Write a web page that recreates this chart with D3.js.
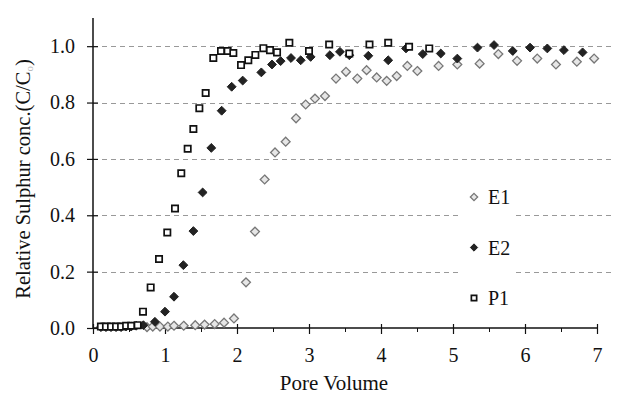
<!DOCTYPE html>
<html>
<head>
<meta charset="utf-8">
<script src="https://cdn.jsdelivr.net/npm/d3@7"></script>
<style>
  body { margin: 0; background: #fff; }
</style>
</head>
<body>
<div id="rootDiv"></div>
<script>
// E1 series (pore volume, C/Co)
const e1X = [0.75, 0.83, 0.93, 1.04, 1.125, 1.26, 1.42, 1.55, 1.69, 1.82, 1.958, 2.125, 2.25, 2.384, 2.528, 2.676, 2.82, 2.954, 3.083, 3.222, 3.375, 3.514, 3.671, 3.80, 3.94, 4.079, 4.218, 4.366, 4.505, 4.8, 5.06, 5.37, 5.63, 5.89, 6.17, 6.43, 6.72, 6.96]
const e1Y = [0.003, 0.005, 0.005, 0.005, 0.008, 0.008, 0.01, 0.012, 0.014, 0.019, 0.034, 0.162, 0.342, 0.527, 0.623, 0.661, 0.744, 0.793, 0.814, 0.823, 0.885, 0.909, 0.885, 0.915, 0.889, 0.877, 0.894, 0.930, 0.912, 0.93, 0.935, 0.938, 0.972, 0.948, 0.956, 0.935, 0.945, 0.956]

// E2 series
const e2X = [0.11, 0.18, 0.25, 0.32, 0.39, 0.46, 0.53, 0.6, 0.7, 0.86, 1.0, 1.125, 1.255, 1.394, 1.523, 1.643, 1.787, 1.926, 2.079, 2.338, 2.486, 2.606, 2.75, 2.885, 3.023, 3.29, 3.43, 3.56, 3.824, 4.1, 4.347, 4.58, 4.83, 5.06, 5.34, 5.57, 5.83, 6.07, 6.31, 6.54, 6.80]
const e2Y = [0.003, 0.003, 0.003, 0.003, 0.003, 0.005, 0.005, 0.008, 0.01, 0.022, 0.058, 0.111, 0.223, 0.344, 0.481, 0.639, 0.771, 0.856, 0.878, 0.907, 0.935, 0.947, 0.958, 0.950, 0.962, 0.968, 0.980, 0.968, 0.966, 0.950, 0.992, 0.972, 0.974, 0.956, 0.995, 1.004, 0.983, 0.995, 0.992, 0.986, 0.978]

// P1 series
const p1X = [0.11, 0.18, 0.25, 0.32, 0.39, 0.46, 0.53, 0.62, 0.694, 0.801, 0.917, 1.032, 1.139, 1.226, 1.315, 1.394, 1.477, 1.565, 1.671, 1.778, 1.87, 1.949, 2.056, 2.157, 2.255, 2.366, 2.458, 2.556, 2.727, 3.0, 3.28, 3.56, 3.84, 4.1, 4.39, 4.67]
const p1Y = [0.005, 0.005, 0.005, 0.005, 0.005, 0.008, 0.008, 0.01, 0.058, 0.144, 0.245, 0.339, 0.424, 0.549, 0.636, 0.706, 0.780, 0.834, 0.958, 0.983, 0.983, 0.976, 0.933, 0.950, 0.969, 0.993, 0.986, 0.978, 1.012, 0.983, 1.006, 0.974, 1.006, 1.012, 0.998, 0.992]

const seriesNames = ["E1", "E2", "P1"]
const xTicks = [0, 1, 2, 3, 4, 5, 6, 7]
const xMinorTicks = [0.5, 1.5, 2.5, 3.5, 4.5, 5.5, 6.5]
const yTicks = [0, 0.2, 0.4, 0.6, 0.8, 1.0]

const W = 617, H = 397
const plotLeft = 93, plotRight = 597, plotTop = 18, plotBottom = 328
const gridRight = 612
const FONT = "Liberation Serif, Times New Roman, DejaVu Serif, serif"
const FS = 20

const x = d3.scaleLinear().domain([0, 7]).range([plotLeft, plotRight])
const y = d3.scaleLinear().domain([0, 1.1]).range([plotBottom, plotTop])

const svg = d3.select("#rootDiv").append("svg")
    .attr("width", W)
    .attr("height", H)
    .attr("font-family", FONT)

// gridlines
svg.append("g")
    .selectAll("line")
    .data(yTicks.filter(d => d > 0))
    .enter()
    .append("line")
    .attr("x1", plotLeft)
    .attr("x2", gridRight)
    .attr("y1", d => Math.round(y(d)) + 0.5)
    .attr("y2", d => Math.round(y(d)) + 0.5)
    .attr("stroke", "#999")
    .attr("stroke-width", 1)
    .attr("stroke-dasharray", "5,4")

// legend background (covers the grid)
svg.append("rect")
    .attr("x", 458).attr("y", 178)
    .attr("width", 58).attr("height", 132)
    .attr("fill", "#fff")

// axes
const yAxis = svg.append("g")
    .attr("transform", `translate(${plotLeft},0)`)
    .call(d3.axisLeft(y).tickValues(yTicks).tickFormat(d3.format(".1f")).tickSize(6).tickPadding(12))

const xAxis = svg.append("g")
    .attr("transform", `translate(0,${plotBottom})`)
    .call(d3.axisBottom(x).tickValues(xTicks).tickFormat(d3.format("d")).tickSize(6).tickPadding(14))

svg.append("g")
    .attr("transform", `translate(0,${plotBottom})`)
    .call(d3.axisBottom(x).tickValues(xMinorTicks).tickFormat("").tickSize(4).tickSizeOuter(0))
    .call(g => g.select(".domain").remove())
    .selectAll("line").style("stroke", "#111")

for (const axis of [xAxis, yAxis]) {
    axis.attr("font-family", FONT).attr("font-size", FS)
    axis.selectAll("line").style("stroke", "#111").style("stroke-width", 1.2)
    axis.selectAll("path").style("stroke", "#111").style("stroke-width", 1.5)
    axis.selectAll("text").style("fill", "#111")
}
// major ticks cross the axis line
yAxis.selectAll(".tick line").attr("x2", -6).attr("x1", 5)
xAxis.selectAll(".tick line").attr("y1", -4)
yAxis.select(".domain").attr("d", `M0,${plotBottom}V${plotTop}`)
xAxis.select(".domain").attr("d", `M${plotLeft},0H${plotRight}`)

// markers
const diamond = d3.symbol().type(d3.symbolDiamond2).size(50)
const square = d3.symbol().type(d3.symbolSquare).size(40)
const styles = {
    E1: { sym: diamond, fill: "#e6e6e6", stroke: "#777", sw: 1.3 },
    E2: { sym: diamond, fill: "#222", stroke: "#222", sw: 1 },
    P1: { sym: square, fill: "#fff", stroke: "#111", sw: 1.7 }
}
const seriesData = [
    { name: "E1", pts: e1X.map((v, i) => [v, e1Y[i]]) },
    { name: "E2", pts: e2X.map((v, i) => [v, e2Y[i]]) },
    { name: "P1", pts: p1X.map((v, i) => [v, p1Y[i]]) }
]

for (const s of seriesData) {
    const st = styles[s.name]
    svg.append("g")
        .selectAll("path")
        .data(s.pts)
        .enter()
        .append("path")
        .attr("transform", d => `translate(${x(d[0])},${y(d[1])})`)
        .attr("d", st.sym())
        .attr("fill", st.fill)
        .attr("stroke", st.stroke)
        .attr("stroke-width", st.sw)
}

// legend
const legend = svg.selectAll(".legend")
    .data(seriesNames)
    .enter()
    .append("g")
    .attr("class", "legend")
    .attr("transform", (d, i) => `translate(474,${197 + i * 50.5})`)

legend.append("path")
    .attr("d", d => d === "P1" ? d3.symbol().type(d3.symbolSquare).size(28)() : d3.symbol().type(d3.symbolDiamond2).size(34)())
    .attr("fill", d => styles[d].fill)
    .attr("stroke", d => styles[d].stroke)
    .attr("stroke-width", d => styles[d].sw)

legend.append("text")
    .attr("x", 14)
    .attr("dy", "0.36em")
    .attr("font-size", FS)
    .attr("fill", "#111")
    .text(d => d)

// axis titles
svg.append("text")
    .attr("x", 334)
    .attr("y", 390)
    .attr("text-anchor", "middle")
    .attr("font-size", 21)
    .attr("fill", "#111")
    .text("Pore Volume")

const yTitle = svg.append("text")
    .attr("transform", `translate(30,179) rotate(-90)`)
    .attr("text-anchor", "middle")
    .attr("font-size", 20.5)
    .attr("fill", "#111")
yTitle.append("tspan").text("Relative Sulphur conc.(C/C")
yTitle.append("tspan").attr("font-size", 11).attr("fill", "#bbb").attr("dy", 3).text("o")
yTitle.append("tspan").attr("dy", -3).text(")")
</script>
</body>
</html>
